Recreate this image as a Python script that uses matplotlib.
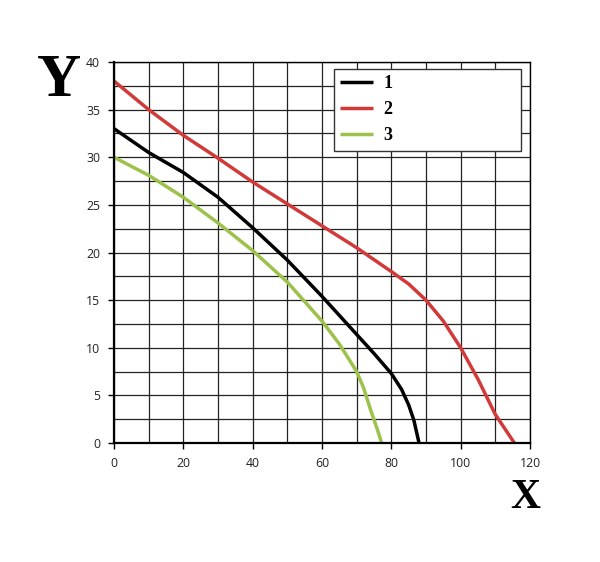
import numpy as np
import matplotlib.pyplot as plt

# ---- curve data
x1 = [0, 10, 20, 30, 40, 50, 60, 70, 75, 80, 83, 85, 86.5, 88]
y1 = [33, 30.5, 28.4, 25.8, 22.6, 19.2, 15.4, 11.4, 9.4, 7.3, 5.6, 4.0, 2.4, 0]

x2 = [0, 10, 20, 30, 40, 50, 60, 70, 80, 85, 90, 95, 100, 105, 110, 115.5]
y2 = [38, 35, 32.3, 29.9, 27.4, 25.1, 22.8, 20.5, 18.0, 16.7, 15.0, 12.8, 10.0, 6.7, 3.0, 0]

x3 = [0, 10, 20, 30, 40, 50, 60, 65, 70, 72, 74, 76, 77.2]
y3 = [30, 28.1, 25.8, 23.1, 20.2, 16.9, 12.8, 10.4, 7.5, 5.8, 3.5, 1.4, 0]

labels = ["1", "2", "3"]
colors = ["black", "#d23a3a", "#9cc24c"]

fig = plt.figure(figsize=(6, 5.62), dpi=100)
ax = fig.add_axes([0.19, 0.2117, 0.6933, 0.678])

for xs, ys, lab, c in zip([x1, x2, x3], [y1, y2, y3], labels, colors):
    ax.plot(xs, ys, color=c, lw=2.5, label=lab, solid_capstyle="butt")

ax.set_xlim(0, 120)
ax.set_ylim(0, 40)
ax.set_xticks(np.arange(0, 121, 20))
ax.set_yticks(np.arange(0, 41, 5))
ax.set_xticks(np.arange(0, 121, 10), minor=True)
ax.set_yticks(np.arange(0, 41, 2.5), minor=True)
ax.grid(which="both", color="#222222", lw=0.9)
ax.tick_params(which="minor", length=0)
ax.tick_params(which="major", length=4, width=1, labelsize=8.8, pad=6, labelcolor="#222222")
for t in ax.get_xticklabels() + ax.get_yticklabels():
    t.set_family("Open Sans")
for s in ["top", "right"]:
    ax.spines[s].set_linewidth(1.0)
for s in ["left", "bottom"]:
    ax.spines[s].set_linewidth(1.6)
ax.set_axisbelow(True)

leg = ax.legend(loc="upper left", bbox_to_anchor=(0.529, 0.782, 0.449, 0.2), mode="expand",
                prop={"family": "Liberation Serif", "weight": "bold", "size": 13},
                fancybox=False, edgecolor="#333333", framealpha=1, handlelength=1.8,
                handletextpad=0.6, borderaxespad=0, labelspacing=0.5, borderpad=0.35)
leg.get_frame().set_linewidth(1.0)

fig.text(0.098, 0.829, "Y", family="Liberation Serif", weight="bold", fontsize=44,
         ha="center", va="baseline")
fig.text(0.876, 0.0955, "X", family="Liberation Serif", weight="bold", fontsize=30,
         ha="center", va="baseline")

fig.savefig("out.png", facecolor="white")
